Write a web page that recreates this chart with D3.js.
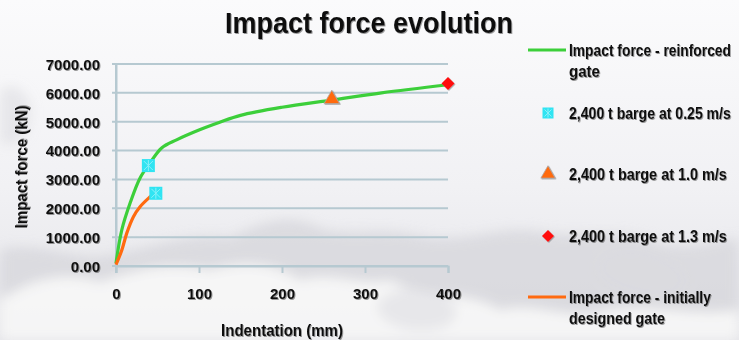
<!DOCTYPE html>
<html>
<head>
<meta charset="utf-8">
<script src="https://cdn.jsdelivr.net/npm/d3@7"></script>
<style>
  html, body { margin: 0; padding: 0; background: #f4f4f6; }
  svg { display: block; }
  text { font-family: "Liberation Sans Narrow", "Arial Narrow", "Liberation Sans", Arial, sans-serif; font-weight: bold; fill: #111; }
</style>
</head>
<body>
<svg id="chart" width="739" height="340"></svg>
<script>
// Indentation (mm) vs impact force (kN)
const reinforcedX = [0, 7, 17, 29, 41, 55, 73, 100, 125, 150, 200, 260, 320, 400];
const reinforcedY = [100, 1250, 2180, 3050, 3570, 4090, 4370, 4710, 4980, 5220, 5500, 5750, 6000, 6280];
const initialX = [0, 7, 13, 21, 29, 39, 51];
const initialY = [50, 550, 1140, 1710, 2055, 2345, 2630];
const barge025X = [39, 48];
const barge025Y = [3480, 2520];
const barge10 = [260, 5750];
const barge13 = [400, 6320];
const xTicks = [0, 100, 200, 300, 400];
const yTicks = [0, 1000, 2000, 3000, 4000, 5000, 6000, 7000];

const title = "Impact force evolution";
const xTitle = "Indentation (mm)";
const yTitle = "Impact force (kN)";
const legendLabels = [
  ["Impact force - reinforced", "gate"],
  ["2,400 t barge at 0.25 m/s"],
  ["2,400 t barge at 1.0 m/s"],
  ["2,400 t barge at 1.3 m/s"],
  ["Impact force - initially", "designed gate"]
];

const green = "#3ccf3a", orange = "#ff6a10", cyan = "#30e4f2", red = "#ff0a0a", grid = "#b6c9d1";

const svg = d3.select("#chart");
const defs = svg.append("defs");

// soft drop shadow used on all text
const sh = defs.append("filter").attr("id", "ts").attr("x", "-10%").attr("y", "-30%").attr("width", "120%").attr("height", "160%");
sh.append("feDropShadow").attr("dx", 1).attr("dy", 1).attr("stdDeviation", 0.6)
  .attr("flood-color", "#444").attr("flood-opacity", 0.55);
const blur = defs.append("filter").attr("id", "cloud").attr("x", "-20%").attr("y", "-50%").attr("width", "140%").attr("height", "200%");
blur.append("feGaussianBlur").attr("stdDeviation", 6);
const mshadow = defs.append("filter").attr("id", "ms").attr("x", "-50%").attr("y", "-50%").attr("width", "200%").attr("height", "200%");
mshadow.append("feDropShadow").attr("dx", 0.8).attr("dy", 0.8).attr("stdDeviation", 0.6)
  .attr("flood-color", "#666").attr("flood-opacity", 0.6);

// background: pale sky fading into grey cloud banks at the bottom
const bg = defs.append("linearGradient").attr("id", "bg").attr("x1", 0).attr("y1", 0).attr("x2", 0).attr("y2", 1);
bg.append("stop").attr("offset", "0%").attr("stop-color", "#fbfbfc");
bg.append("stop").attr("offset", "55%").attr("stop-color", "#f1f1f4");
bg.append("stop").attr("offset", "100%").attr("stop-color", "#e4e4e8");
svg.append("rect").attr("width", 739).attr("height", 340).attr("fill", "url(#bg)");

const clouds = svg.append("g").attr("filter", "url(#cloud)");
clouds.append("path").attr("fill", "#d6d6db").attr("opacity", 0.75)
  .attr("d", "M0,250 C40,240 70,262 110,255 C160,246 190,232 230,238 C260,222 290,212 320,228 C350,238 380,226 420,236 C460,246 500,224 540,232 C580,240 620,226 660,244 C700,252 720,236 739,240 L739,340 L0,340 Z");
clouds.append("path").attr("fill", "#fafafa").attr("opacity", 0.85)
  .attr("d", "M0,300 C30,280 60,270 100,282 C140,268 170,262 210,270 C250,258 280,266 300,280 C330,270 360,286 390,280 C430,300 470,290 500,310 C530,300 570,320 600,312 C640,300 690,318 739,310 L739,340 L0,340 Z");
clouds.append("path").attr("fill", "#dcdce1").attr("opacity", 0.6)
  .attr("d", "M380,300 C400,285 430,280 450,300 C470,320 440,335 410,330 C390,326 370,315 380,300 Z");
clouds.append("path").attr("fill", "#dadadf").attr("opacity", 0.55)
  .attr("d", "M600,260 C620,240 660,250 680,268 C700,290 670,305 640,296 C615,290 590,278 600,260 Z");
clouds.append("path").attr("fill", "#d9d9de").attr("opacity", 0.5)
  .attr("d", "M0,90 C15,80 35,95 30,120 C25,145 5,150 0,140 Z");

const x = d3.scaleLinear().domain([0, 400]).range([116, 448]);
const y = d3.scaleLinear().domain([0, 7000]).range([266, 64]);

// gridlines
svg.append("g").selectAll("line").data(yTicks).join("line")
  .attr("x1", 112).attr("x2", x(400)).attr("y1", d => y(d)).attr("y2", d => y(d))
  .attr("stroke", grid).attr("stroke-width", 2);

// axes
const yAxis = svg.append("g").attr("transform", `translate(${x(0)},0)`)
  .call(d3.axisLeft(y).tickValues(yTicks).tickSize(0).tickPadding(16).tickFormat(d3.format(".2f")));
yAxis.select(".domain").attr("stroke", grid).attr("stroke-width", 2);
yAxis.selectAll("text").attr("font-size", 15).attr("fill", "#111").attr("filter", "url(#ts)")
  .style("font-family", "'Liberation Sans', Arial, sans-serif").attr("dy", "0.36em");

const xAxis = svg.append("g").attr("transform", `translate(0,${y(0)})`)
  .call(d3.axisBottom(x).tickValues(xTicks).tickSize(7).tickPadding(15).tickFormat(d3.format("d")));
xAxis.select(".domain").attr("stroke", grid).attr("stroke-width", 2);
xAxis.selectAll(".tick line").attr("stroke", grid).attr("stroke-width", 2);
xAxis.selectAll("text").attr("font-size", 15).attr("fill", "#111").attr("filter", "url(#ts)")
  .style("font-family", "'Liberation Sans', Arial, sans-serif");
svg.append("line").attr("x1", x(0)).attr("x2", x(0)).attr("y1", y(7000)).attr("y2", y(0) + 7)
  .attr("stroke", grid).attr("stroke-width", 2);

// curves
const line = d3.line().x(d => x(d[0])).y(d => y(d[1])).curve(d3.curveCatmullRom.alpha(0.5));
svg.append("path").datum(d3.zip(reinforcedX, reinforcedY)).attr("d", line)
  .attr("fill", "none").attr("stroke", green).attr("stroke-width", 3.2).attr("stroke-linejoin", "round");
svg.append("path").datum(d3.zip(initialX, initialY)).attr("d", line)
  .attr("fill", "none").attr("stroke", orange).attr("stroke-width", 3.2).attr("stroke-linejoin", "round");

// markers
function squareMark(g, cx, cy, s) {
  g.append("rect").attr("x", cx - s / 2).attr("y", cy - s / 2).attr("width", s).attr("height", s)
    .attr("fill", cyan);
  g.append("path").attr("d", `M${cx - s / 2 + 2},${cy - s / 2 + 2}L${cx + s / 2 - 2},${cy + s / 2 - 2}M${cx + s / 2 - 2},${cy - s / 2 + 2}L${cx - s / 2 + 2},${cy + s / 2 - 2}M${cx},${cy - s / 2 + 1}V${cy + s / 2 - 1}`)
    .attr("stroke", "#9ff4fb").attr("stroke-width", 1).attr("opacity", 0.8);
}
function triMark(g, cx, cy, s) {
  g.append("path").attr("d", d3.symbol(d3.symbolTriangle, s * s * 0.45)())
    .attr("transform", `translate(${cx},${cy})`).attr("fill", orange)
    .attr("stroke", "#b0a8a4").attr("stroke-width", 0.8).attr("filter", "url(#ms)");
}
function diaMark(g, cx, cy, s) {
  g.append("path").attr("d", `M0,${-s / 2}L${s / 2},0L0,${s / 2}L${-s / 2},0Z`)
    .attr("transform", `translate(${cx},${cy})`).attr("fill", red).attr("filter", "url(#ms)");
}
const marks = svg.append("g");
d3.zip(barge025X, barge025Y).forEach(d => squareMark(marks, x(d[0]), y(d[1]), 13));
triMark(marks, x(barge10[0]), y(barge10[1]) - 1, 15);
diaMark(marks, x(barge13[0]), y(barge13[1]), 13);

// condensed text: draw at the anchor, then squeeze horizontally to the wanted width
function fitText(parent, str, px, py, size, width, anchor, rotate) {
  const g = parent.append("g");
  const t = g.append("text").attr("font-size", size).attr("text-anchor", anchor || "start")
    .attr("filter", "url(#ts)").text(str);
  const natural = t.node().getComputedTextLength();
  const sx = Math.min(1, width / natural);
  g.attr("transform", `translate(${px},${py})${rotate ? ` rotate(${rotate})` : ""} scale(${sx},1)`);
  return g;
}

// title and axis titles
fitText(svg, title, 369, 33, 30, 288, "middle");
fitText(svg, xTitle, 282, 336, 16, 122, "middle");
fitText(svg, yTitle, 27, 167, 16, 123, "middle", -90);

// legend
const lg = svg.append("g");
const rowY = [50, 113, 174, 236, 297];
const lens = [[162, 31], [162], [158], [158], [142, 96]];
lg.append("line").attr("x1", 528).attr("x2", 566).attr("y1", rowY[0]).attr("y2", rowY[0])
  .attr("stroke", green).attr("stroke-width", 3);
squareMark(lg, 548, rowY[1], 11);
triMark(lg, 548, rowY[2], 14);
diaMark(lg, 548, rowY[3], 12);
lg.append("line").attr("x1", 528).attr("x2", 566).attr("y1", rowY[4]).attr("y2", rowY[4])
  .attr("stroke", orange).attr("stroke-width", 3);
legendLabels.forEach((lines, i) => {
  lines.forEach((t, j) => fitText(lg, t, 569, rowY[i] + 6 + j * 21, 17, lens[i][j], "start"));
});
</script>
</body>
</html>
